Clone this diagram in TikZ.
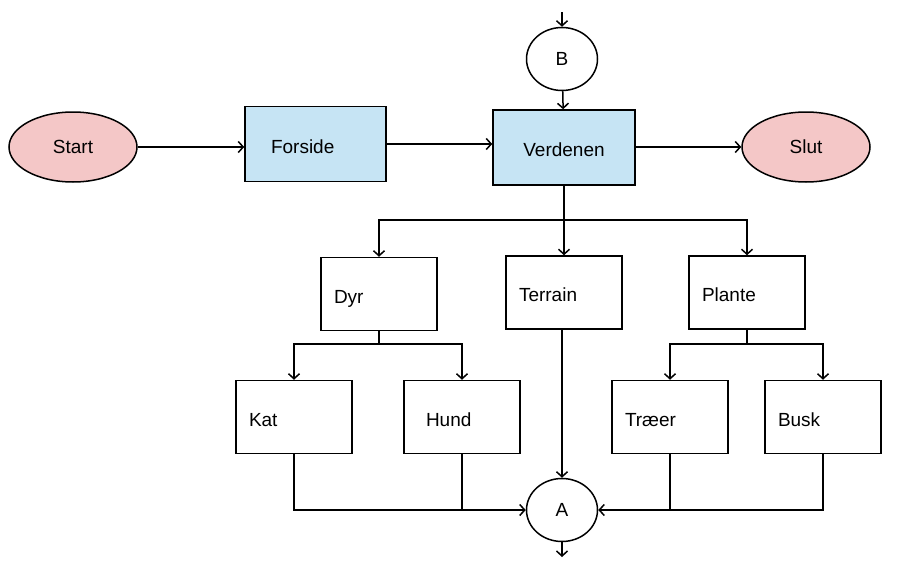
\documentclass[tikz,border=0pt]{standalone}
\usepackage{fontspec}
\setmainfont{Liberation Sans}
\usetikzlibrary{arrows.meta}
\usetikzlibrary{shapes.geometric}
\definecolor{lysblaa}{RGB}{198,228,244}
\definecolor{lyserod}{RGB}{244,199,199}
\tikzset{
  linje/.style={line width=1.5pt},
  pil/.style={linje, -{Straight Barb[length=5pt,width=11pt,line width=1.5pt]}},
  boks/.style={draw, linje, minimum height=73, inner ysep=0, text width=#1, align=left, inner xsep=13, text height=18pt, text depth=0pt},
  ende/.style={ellipse, draw, linje, fill=lyserod, minimum width=128, minimum height=70},
  forbinder/.style={ellipse, draw, linje, minimum width=71, minimum height=63}
}
\newcommand{\fcboks}[4] {\node[boks=90, #4] (#2) at (#1) {#3};}
\newcommand{\fcovergang}[2] {\draw[pil] (#1) -- (#2);}
\begin{document}
\begin{tikzpicture}[x=1pt, y=-1pt, font=\fontsize{19}{22}\selectfont]
\useasboundingbox (0,0) rectangle (916,565);
% start og slut
\node[ende] (Start) at (73,147) {Start};
\node[ende] (Slut) at (806,147) {Slut};
\node[boks=89, inner xsep=26, minimum height=75, fill=lysblaa] (Forside) at (315.5,144) {Forside};
\node[boks=116, align=center, minimum height=75, fill=lysblaa] (Verdenen) at (564,147.5) {Verdenen};
\node[forbinder] (B) at (562,59) {B};
\node[forbinder] (A) at (562,510) {A};
\coordinate (Bind) at (562,12);
\coordinate (Aud) at (562,557);

% niveau 1
\fcboks {379,294} {Dyr} {Dyr} {}
\fcboks {564,292.5} {Terrain} {Terrain} {}
\fcboks {747,292.5} {Plante} {Plante} {}

% niveau 2
\fcboks {294,417} {Kat} {Kat} {}
\node[boks=72, inner xsep=22] (Hund) at (462,417) {Hund};
\fcboks {670,417} {Traeer} {Træer} {}
\fcboks {823,417} {Busk} {Busk} {}

\coordinate (v1) at (564,220);
\coordinate (d1) at (379,344);
\coordinate (p1) at (747,344);

\draw[pil] (Start) -- (Forside.west |- Start);
\draw[pil] (Forside.east) -- (Verdenen.west |- Forside.east);
\draw[pil] (Verdenen.east |- Slut) -- (Slut);
\fcovergang{Bind}{B}
\fcovergang{B}{Verdenen}

\draw[linje] (Verdenen) -- (v1);
\draw[pil] (v1) -| (Dyr);
\draw[pil] (v1) -| (Plante);
\fcovergang{v1}{Terrain}

\draw[linje] (Dyr) -- (d1);
\draw[pil] (d1) -| (Kat);
\draw[pil] (d1) -| (Hund);
\draw[linje] (Plante) -- (p1);
\draw[pil] (p1) -| (Traeer);
\draw[pil] (p1) -| (Busk);

\draw[pil] (Terrain.south -| A) -- (A);
\draw[pil] (Kat) |- (A);
\draw[linje] (Hund) -- (Hund |- A);
\draw[pil] (Busk) |- (A);
\draw[linje] (Traeer) -- (Traeer |- A);
\fcovergang{A}{Aud}
\end{tikzpicture}
\end{document}
